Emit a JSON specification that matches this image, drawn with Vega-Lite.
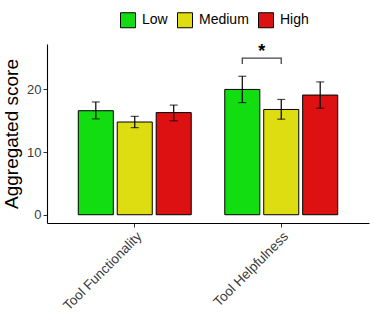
{
  "$schema": "https://vega.github.io/schema/vega-lite/v6.json",
  "width": 322,
  "height": 179,
  "autosize": {"type": "none"},
  "padding": {"left": 47, "top": 44, "right": 5, "bottom": 98},
  "background": "white",
  "config": {
    "view": {"stroke": null},
    "font": "Liberation Sans",
    "axis": {"grid": false, "domainColor": "black", "domainWidth": 1.1, "tickColor": "#333333", "tickSize": 4, "labelColor": "#3A3A3A", "labelFontSize": 13, "labelFont": "Liberation Sans"}
  },
  "datasets": {
    "scores": [
      {"aspect": "Tool Functionality", "level": "Low", "mean": 16.6, "lo": 15.3, "hi": 18.0},
      {"aspect": "Tool Functionality", "level": "Medium", "mean": 14.8, "lo": 13.9, "hi": 15.7},
      {"aspect": "Tool Functionality", "level": "High", "mean": 16.3, "lo": 15.0, "hi": 17.5},
      {"aspect": "Tool Helpfulness", "level": "Low", "mean": 20.0, "lo": 17.9, "hi": 22.1},
      {"aspect": "Tool Helpfulness", "level": "Medium", "mean": 16.8, "lo": 15.25, "hi": 18.4},
      {"aspect": "Tool Helpfulness", "level": "High", "mean": 19.1, "lo": 17.0, "hi": 21.2}
    ],
    "bracket": [
      {"aspect": "Tool Helpfulness", "level": "Low", "y": 24.05, "k": 1},
      {"aspect": "Tool Helpfulness", "level": "Low", "y": 25.0, "k": 2},
      {"aspect": "Tool Helpfulness", "level": "Medium", "y": 25.0, "k": 3},
      {"aspect": "Tool Helpfulness", "level": "Medium", "y": 24.05, "k": 4}
    ],
    "sig": [
      {"aspect": "Tool Helpfulness", "level": "Low", "y": 25.0, "label": "*"}
    ]
  },
  "encoding": {
    "x": {
      "field": "aspect", "type": "nominal",
      "scale": {"paddingInner": 0.229, "paddingOuter": 0.2135},
      "axis": {"title": null, "labelAngle": -45, "labelAlign": "right", "labelBaseline": "top", "labelPadding": 2, "labelFontSize": 13.5}
    },
    "xOffset": {
      "field": "level", "type": "nominal",
      "scale": {"domain": ["Low", "Medium", "High"], "paddingInner": 0.1, "paddingOuter": 0}
    }
  },
  "layer": [
    {
      "data": {"name": "scores"},
      "mark": {"type": "bar", "stroke": "black", "strokeWidth": 1},
      "encoding": {
        "y": {
          "field": "mean", "type": "quantitative",
          "scale": {"domain": [-1.32, 27.25], "nice": false, "zero": false},
          "axis": {"title": "Aggregated score", "values": [0, 10, 20], "titleFontSize": 19, "titleFontWeight": "normal", "titleColor": "black", "titlePadding": 5, "labelPadding": 2}
        },
        "color": {
          "field": "level", "type": "nominal",
          "scale": {"domain": ["Low", "Medium", "High"], "range": ["#11DD11", "#DDDD11", "#DD1111"]},
          "legend": {
            "title": null, "orient": "none", "direction": "horizontal",
            "legendX": 73, "legendY": -32,
            "symbolType": "square", "symbolSize": 225,
            "symbolStrokeColor": "black", "symbolStrokeWidth": 1,
            "labelFontSize": 14, "labelColor": "black", "labelOffset": 6, "columnPadding": 7, "padding": 0
          }
        }
      }
    },
    {
      "data": {"name": "scores"},
      "mark": {"type": "rule", "color": "black", "strokeWidth": 1.2},
      "encoding": {
        "y": {"field": "lo", "type": "quantitative"},
        "y2": {"field": "hi"}
      }
    },
    {
      "data": {"name": "scores"},
      "mark": {"type": "tick", "color": "black", "size": 8, "thickness": 1.2, "orient": "horizontal"},
      "encoding": {"y": {"field": "lo", "type": "quantitative"}}
    },
    {
      "data": {"name": "scores"},
      "mark": {"type": "tick", "color": "black", "size": 8, "thickness": 1.2, "orient": "horizontal"},
      "encoding": {"y": {"field": "hi", "type": "quantitative"}}
    },
    {
      "data": {"name": "bracket"},
      "mark": {"type": "line", "color": "#444444", "strokeWidth": 1.3},
      "encoding": {
        "y": {"field": "y", "type": "quantitative"},
        "order": {"field": "k", "type": "quantitative"}
      }
    },
    {
      "data": {"name": "sig"},
      "mark": {"type": "text", "fontSize": 18, "fontWeight": "bold", "color": "black", "dx": 19.5, "dy": -1, "baseline": "alphabetic", "align": "center"},
      "encoding": {
        "y": {"field": "y", "type": "quantitative"},
        "text": {"field": "label"}
      }
    }
  ]
}
